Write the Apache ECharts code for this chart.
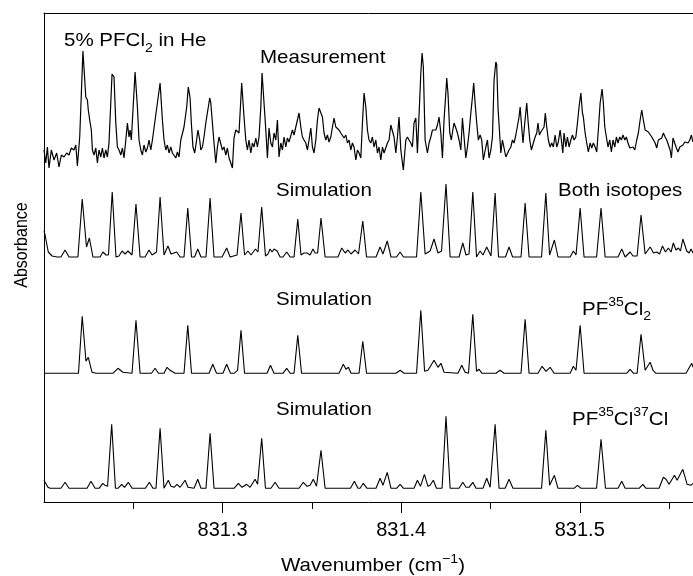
<!DOCTYPE html>
<html>
<head>
<meta charset="utf-8">
<script src="https://cdn.jsdelivr.net/npm/echarts@6/dist/echarts.min.js"></script>
<style>
html,body{margin:0;padding:0;background:#fff;}
#chart{width:693px;height:576px;}
</style>
</head>
<body>
<div id="chart"></div>
<script>
// ---- axis ticks / labels (cm^-1) ----
const wavenumberMajorTicks = [831.3, 831.4, 831.5];
const wavenumberMinorTicks = [831.25, 831.35, 831.45, 831.55];
const wavenumberMin = 831.2;
const wavenumberMax = 831.5634;

// ---- traces: [wavenumber (cm^-1), absorbance (arb. units, relative to trace baseline)] ----
const measurement = [
[831.2000,3],[831.2010,-10],[831.2019,6],[831.2028,-15],[831.2041,3],[831.2056,-7],[831.2071,0],[831.2084,-14],[831.2097,-2],[831.2112,-4],
[831.2127,0],[831.2140,-2],[831.2153,5],[831.2168,3],[831.2178,8],[831.2187,-13],[831.2200,16],[831.2218,102],[831.2234,56],[831.2243,53],
[831.2248,43],[831.2256,33],[831.2265,23],[831.2271,3],[831.2280,-2],[831.2290,5],[831.2299,-10],[831.2308,3],[831.2318,-4],[831.2327,5],
[831.2336,-5],[831.2346,3],[831.2355,-4],[831.2364,10],[831.2381,79],[831.2392,76],[831.2402,30],[831.2411,6],[831.2420,3],[831.2430,-2],
[831.2439,5],[831.2448,-5],[831.2458,13],[831.2467,30],[831.2476,16],[831.2482,23],[831.2489,13],[831.2510,81],[831.2523,46],[831.2532,13],
[831.2542,3],[831.2551,-2],[831.2560,8],[831.2570,1],[831.2579,5],[831.2588,13],[831.2598,3],[831.2607,13],[831.2616,11],[831.2650,70],
[831.2663,33],[831.2672,13],[831.2682,3],[831.2691,8],[831.2700,0],[831.2710,6],[831.2719,0],[831.2728,-2],[831.2738,-5],[831.2747,1],
[831.2756,-4],[831.2766,13],[831.2784,26],[831.2799,46],[831.2808,66],[831.2818,55],[831.2825,30],[831.2834,6],[831.2844,0],[831.2853,11],
[831.2862,23],[831.2872,13],[831.2878,3],[831.2887,6],[831.2896,16],[831.2906,30],[831.2928,55],[831.2934,50],[831.2943,30],[831.2952,10],
[831.2962,-10],[831.2971,6],[831.2980,16],[831.2990,15],[831.2999,3],[831.3008,6],[831.3018,-2],[831.3027,5],[831.3036,-5],[831.3046,-10],
[831.3055,-15],[831.3064,15],[831.3074,23],[831.3083,25],[831.3092,20],[831.3107,70],[831.3120,36],[831.3130,13],[831.3139,3],[831.3148,13],
[831.3158,0],[831.3167,10],[831.3176,6],[831.3186,15],[831.3195,6],[831.3204,16],[831.3214,46],[831.3221,80],
[831.3232,50],[831.3242,23],[831.3251,-5],[831.3260,25],[831.3270,10],[831.3279,6],[831.3288,20],[831.3298,13],[831.3307,33],[831.3316,-4],
[831.3326,10],[831.3335,3],[831.3344,16],[831.3354,6],[831.3363,15],[831.3372,11],[831.3382,13],[831.3391,23],[831.3400,18],[831.3410,26],
[831.3419,33],[831.3428,40],[831.3438,26],[831.3447,16],[831.3456,13],[831.3466,10],[831.3475,3],[831.3484,13],[831.3494,25],[831.3503,6],
[831.3512,0],[831.3522,13],[831.3531,33],[831.3540,45],[831.3550,46],[831.3559,36],[831.3568,20],[831.3578,13],[831.3587,18],[831.3596,11],
[831.3606,16],[831.3615,26],[831.3624,35],[831.3634,26],[831.3643,25],[831.3652,23],[831.3662,20],[831.3671,21],[831.3680,15],[831.3690,18],
[831.3699,10],[831.3708,13],[831.3718,3],[831.3727,10],[831.3736,6],[831.3746,-7],[831.3755,3],[831.3764,0],[831.3774,-5],[831.3783,30],
[831.3792,60],[831.3802,46],[831.3811,23],[831.3820,13],[831.3830,10],[831.3839,16],[831.3848,6],[831.3858,13],[831.3867,0],[831.3876,6],
[831.3886,-7],[831.3895,6],[831.3904,0],[831.3914,-2],[831.3923,10],[831.3932,13],[831.3942,28],[831.3951,30],[831.3960,16],[831.3970,0],
[831.3979,16],[831.3988,36],[831.3998,3],[831.4012,-17],[831.4026,13],[831.4035,16],[831.4044,13],[831.4054,10],[831.4063,6],[831.4072,30],
[831.4082,35],[831.4091,0],[831.4100,0],[831.4110,80],[831.4117,100],[831.4124,86],[831.4134,13],[831.4147,0],[831.4156,10],[831.4166,16],
[831.4175,23],[831.4184,25],[831.4194,23],[831.4203,28],[831.4212,36],[831.4222,20],[831.4231,-5],[831.4240,33],[831.4250,60],[831.4255,75],
[831.4262,60],[831.4272,20],[831.4281,13],[831.4289,23],[831.4296,30],[831.4306,25],[831.4315,20],[831.4324,13],[831.4334,3],[831.4343,35],
[831.4352,16],[831.4362,-5],[831.4371,6],[831.4380,20],[831.4390,40],[831.4399,56],[831.4406,70],[831.4414,50],[831.4423,30],[831.4432,13],
[831.4442,18],[831.4451,13],[831.4460,-7],
[831.4464,-9],[831.4474,6],[831.4483,13],[831.4492,-5],[831.4502,3],[831.4511,16],[831.4520,73],[831.4530,91],[831.4535,88],[831.4542,46],
[831.4550,23],[831.4558,0],[831.4567,13],[831.4576,15],[831.4586,-4],[831.4595,-2],[831.4604,3],[831.4614,6],[831.4623,13],[831.4632,10],
[831.4642,18],[831.4651,16],[831.4660,36],[831.4666,46],[831.4673,30],[831.4682,10],[831.4692,30],[831.4703,50],[831.4710,33],[831.4720,13],
[831.4729,3],[831.4740,10],[831.4750,16],[831.4759,20],[831.4766,30],[831.4774,18],[831.4782,21],[831.4791,23],[831.4800,26],[831.4807,40],
[831.4815,26],[831.4824,13],[831.4834,6],[831.4843,10],[831.4852,6],[831.4862,18],[831.4871,6],[831.4880,11],[831.4890,23],[831.4897,13],
[831.4905,0],[831.4912,20],[831.4922,6],[831.4931,16],[831.4940,6],[831.4950,13],[831.4959,18],[831.4968,13],[831.4978,16],[831.4987,30],
[831.4996,46],[831.5006,60],[831.5015,40],[831.5020,36],[831.5030,20],[831.5039,10],[831.5048,1],[831.5058,10],[831.5067,5],[831.5076,10],
[831.5086,6],[831.5095,1],[831.5104,23],[831.5114,50],[831.5125,64],[831.5132,50],[831.5140,26],[831.5149,16],[831.5158,6],[831.5168,13],
[831.5177,1],[831.5186,13],[831.5196,6],[831.5205,16],[831.5214,10],[831.5224,16],[831.5233,13],[831.5242,18],[831.5252,13],[831.5261,16],
[831.5270,10],[831.5280,5],[831.5289,3],[831.5298,6],[831.5308,3],[831.5319,13],[831.5328,20],[831.5338,33],[831.5347,43],[831.5356,33],
[831.5366,23],[831.5375,25],[831.5384,21],[831.5394,23],[831.5403,16],[831.5412,16],[831.5422,10],[831.5431,5],[831.5440,13],[831.5450,11],
[831.5459,15],[831.5468,20],[831.5478,16],[831.5487,13],[831.5496,11],[831.5506,3],[831.5513,-5],[831.5522,15],[831.5532,13],[831.5541,5],
[831.5550,1],[831.5560,6],[831.5569,5],[831.5578,8],[831.5588,11],[831.5597,13],[831.5606,10],[831.5616,13],[831.5625,18],[831.5633,11]
];

const simulationBoth = [
[831.2000,26],[831.2006,22],[831.2024,5],[831.2045,1],[831.2073,0],[831.2095,0],[831.2118,7],[831.2140,0],[831.2190,0],[831.2214,58],
[831.2238,10],[831.2254,19],[831.2274,0],[831.2314,0],[831.2330,5],[831.2347,2],[831.2361,2],[831.2382,65],[831.2403,0],[831.2420,1],
[831.2437,6],[831.2454,3],[831.2470,6],[831.2493,2],[831.2515,53],[831.2538,0],[831.2566,0],[831.2588,7],[831.2605,2],[831.2630,5],
[831.2650,60],[831.2672,2],[831.2694,11],[831.2711,3],[831.2722,2],[831.2743,5],[831.2762,0],[831.2784,0],[831.2805,49],[831.2826,0],
[831.2843,0],[831.2861,8],[831.2879,0],[831.2907,0],[831.2930,59],[831.2952,0],[831.2997,0],[831.3023,9],[831.3042,0],[831.3081,2],
[831.3103,44],[831.3123,2],[831.3142,6],[831.3159,2],[831.3184,8],[831.3198,5],[831.3219,50],[831.3240,1],[831.3254,3],[831.3266,8],
[831.3277,5],[831.3288,8],[831.3305,6],[831.3322,0],[831.3338,0],[831.3359,5],[831.3378,0],[831.3400,0],[831.3421,38],[831.3439,2],
[831.3456,4],[831.3473,4],[831.3490,2],[831.3506,8],[831.3518,4],[831.3532,4],[831.3551,39],[831.3574,0],[831.3646,0],[831.3667,9],
[831.3686,4],[831.3702,7],[831.3719,3],[831.3742,7],[831.3761,3],[831.3785,36],[831.3806,0],[831.3859,0],[831.3882,10],[831.3898,3],
[831.3922,16],[831.3943,0],[831.3974,0],[831.3994,5],[831.4013,0],[831.4086,0],[831.4110,65],[831.4134,3],[831.4162,6],[831.4184,18],
[831.4206,4],[831.4226,6],[831.4251,73],[831.4274,0],[831.4324,0],[831.4345,14],[831.4363,2],[831.4380,3],[831.4401,65],[831.4422,0],
[831.4442,6],[831.4458,2],[831.4479,10],[831.4503,1],[831.4526,64],[831.4545,0],[831.4584,0],[831.4604,10],[831.4624,0],[831.4671,0],
[831.4694,54],[831.4716,0],[831.4786,0],[831.4810,64],[831.4831,2],[831.4858,17],[831.4878,0],[831.4946,0],[831.4964,6],[831.4979,2],
[831.5002,49],[831.5024,0],[831.5094,0],[831.5119,49],[831.5142,0],[831.5214,0],[831.5235,8],[831.5254,0],[831.5265,1],[831.5282,5],
[831.5298,1],[831.5321,1],[831.5343,42],[831.5366,3],[831.5394,10],[831.5413,4],[831.5431,5],[831.5447,3],[831.5463,11],[831.5480,5],
[831.5496,9],[831.5511,5],[831.5524,14],[831.5539,7],[831.5552,9],[831.5564,6],[831.5577,18],[831.5599,6],[831.5612,4],[831.5623,8],
[831.5634,4]
];

const simulationPF35Cl2 = [
[831.2000,0],[831.2193,0],[831.2214,57],[831.2235,12],[831.2248,16],[831.2269,1],[831.2291,0],[831.2386,0],[831.2414,5],[831.2442,1],
[831.2493,0],[831.2515,53],[831.2538,0],[831.2602,0],[831.2622,5],[831.2641,0],[831.2672,0],[831.2689,6],[831.2706,3],[831.2717,5],
[831.2734,0],[831.2784,0],[831.2805,48],[831.2826,0],[831.2924,0],[831.2945,9],[831.2966,0],[831.3002,0],[831.3023,9],[831.3044,0],
[831.3064,0],[831.3084,3],[831.3103,43],[831.3123,0],[831.3249,0],[831.3268,8],[831.3288,0],[831.3338,0],[831.3359,5],[831.3378,0],
[831.3400,0],[831.3421,38],[831.3442,0],[831.3652,0],[831.3676,9],[831.3691,4],[831.3705,6],[831.3719,0],[831.3764,0],[831.3785,32],
[831.3806,0],[831.3971,0],[831.3994,3],[831.4016,0],[831.4086,0],[831.4110,63],[831.4131,2],[831.4150,3],[831.4184,13],[831.4206,6],
[831.4223,10],[831.4240,1],[831.4318,0],[831.4339,8],[831.4358,1],[831.4377,0],[831.4401,59],[831.4422,2],[831.4436,4],[831.4453,0],
[831.4531,0],[831.4554,3],[831.4576,0],[831.4671,0],[831.4694,54],[831.4716,0],[831.4766,0],[831.4789,7],[831.4811,2],[831.4834,6],
[831.4856,0],[831.4946,0],[831.4964,7],[831.4979,3],[831.5002,48],[831.5024,0],[831.5262,0],[831.5282,4],[831.5301,0],[831.5321,0],
[831.5343,39],[831.5366,3],[831.5377,5],[831.5394,11],[831.5410,3],[831.5427,0],[831.5595,0],[831.5627,10],[831.5634,6]
];

const simulationPF35Cl37Cl = [
[831.2000,8],[831.2022,1],[831.2034,0],[831.2095,0],[831.2118,6],[831.2140,0],[831.2241,0],[831.2263,7],[831.2286,0],[831.2308,0],
[831.2329,5],[831.2342,3],[831.2356,2],[831.2379,64],[831.2400,0],[831.2414,0],[831.2435,4],[831.2451,1],[831.2472,6],[831.2493,0],
[831.2568,0],[831.2590,6],[831.2610,0],[831.2627,0],[831.2650,60],[831.2672,0],[831.2683,2],[831.2696,8],[831.2711,2],[831.2728,1],
[831.2745,4],[831.2762,1],[831.2773,2],[831.2790,8],[831.2806,1],[831.2840,0],[831.2861,9],[831.2879,0],[831.2907,0],[831.2930,55],
[831.2952,0],[831.3064,0],[831.3088,5],[831.3109,1],[831.3135,4],[831.3154,1],[831.3182,9],[831.3196,4],[831.3219,50],[831.3240,0],
[831.3271,0],[831.3294,6],[831.3316,0],[831.3428,0],[831.3452,6],[831.3473,2],[831.3490,3],[831.3508,9],[831.3526,2],[831.3551,38],
[831.3574,0],[831.3716,0],[831.3738,7],[831.3758,0],[831.3770,0],[831.3788,5],[831.3809,0],[831.3859,0],[831.3882,10],[831.3898,3],
[831.3922,16],[831.3943,0],[831.3974,0],[831.3994,4],[831.4013,0],[831.4072,0],[831.4091,8],[831.4108,2],[831.4130,14],[831.4150,2],
[831.4162,3],[831.4180,8],[831.4198,0],[831.4229,0],[831.4251,72],[831.4274,0],[831.4324,0],[831.4345,6],[831.4363,1],[831.4380,1],
[831.4401,6],[831.4419,0],[831.4458,0],[831.4479,10],[831.4498,1],[831.4526,64],[831.4548,0],[831.4582,0],[831.4604,9],[831.4626,0],
[831.4786,0],[831.4810,58],[831.4831,3],[831.4858,13],[831.4878,0],[831.4968,0],[831.4987,3],[831.5007,0],[831.5094,0],[831.5119,49],
[831.5144,0],[831.5214,0],[831.5235,7],[831.5254,0],[831.5332,0],[831.5353,4],[831.5371,0],[831.5444,0],[831.5468,11],[831.5483,9],
[831.5500,4],[831.5530,13],[831.5545,8],[831.5577,19],[831.5601,4],[831.5623,3],[831.5634,5]
];

// vertical offsets of each trace baseline (arb. absorbance units)
const baselineMeasurement = 349;
const baselineBoth = 245;
const baselinePF35Cl2 = 128.7;
const baselinePF35Cl37Cl = 13.7;
const absorbanceMin = 0;
const absorbanceMax = 489;

const FONT = '"Liberation Sans", Arial, Helvetica, sans-serif';

function stacked(points, base) {
  return points.map(function (p) { return [p[0], base + p[1]]; });
}

function traceSeries(name, data, width) {
  return {
    name: name, type: 'line', xAxisIndex: 0, yAxisIndex: 0,
    data: data, symbol: 'none', showSymbol: false, smooth: false,
    clip: true, silent: true, animation: false,
    lineStyle: { color: '#000', width: width }
  };
}

function richStyles() {
  return {
    sub: { fontSize: 13, fontFamily: FONT, fill: '#000', lineHeight: 13, verticalAlign: 'bottom' },
    sup: { fontSize: 13, fontFamily: FONT, fill: '#000', lineHeight: 13, verticalAlign: 'top' },
    n: { fontSize: 19, fontFamily: FONT, fill: '#000', lineHeight: 27 }
  };
}

function label(text, x, y, align) {
  return {
    type: 'text', x: x, y: y, scaleX: 1.08, silent: true, z: 10,
    style: {
      text: text, fill: '#000', font: '19px ' + FONT,
      fontSize: 19, fontFamily: FONT,
      align: align || 'left', verticalAlign: 'middle',
      rich: richStyles()
    }
  };
}

var chart = echarts.init(document.getElementById('chart'), null, { renderer: 'canvas' });

chart.setOption({
  animation: false,
  backgroundColor: '#fff',
  grid: { left: 44, right: 0, top: 13, bottom: 74, containLabel: false },
  xAxis: [
    {
      type: 'value', position: 'bottom', min: wavenumberMin, max: wavenumberMax,
      axisLine: { show: true, onZero: false, lineStyle: { color: '#000', width: 1 } },
      axisTick: { show: true, inside: false, length: 11, customValues: wavenumberMajorTicks, lineStyle: { color: '#000', width: 1 } },
      axisLabel: {
        show: true, customValues: wavenumberMajorTicks, margin: 18,
        color: '#000', fontSize: 20, fontFamily: FONT,
        formatter: function (v) { return Number(v).toFixed(1); }
      },
      splitLine: { show: false }
    },
    {
      type: 'value', position: 'bottom', min: wavenumberMin, max: wavenumberMax,
      axisLine: { show: false, onZero: false },
      axisTick: { show: true, inside: false, length: 7, customValues: wavenumberMinorTicks, lineStyle: { color: '#000', width: 1 } },
      axisLabel: { show: false },
      splitLine: { show: false }
    },
    {
      type: 'value', position: 'top', min: wavenumberMin, max: wavenumberMax,
      axisLine: { show: true, onZero: false, lineStyle: { color: '#000', width: 1 } },
      axisTick: { show: false }, axisLabel: { show: false }, splitLine: { show: false }
    }
  ],
  yAxis: {
    type: 'value', min: absorbanceMin, max: absorbanceMax,
    axisLine: { show: true, onZero: false, lineStyle: { color: '#000', width: 1 } },
    axisTick: { show: false }, axisLabel: { show: false }, splitLine: { show: false }
  },
  series: [
    traceSeries('Measurement', stacked(measurement, baselineMeasurement), 1.2),
    traceSeries('Both isotopes', stacked(simulationBoth, baselineBoth), 1.1),
    traceSeries('PF35Cl2', stacked(simulationPF35Cl2, baselinePF35Cl2), 1.1),
    traceSeries('PF35Cl37Cl', stacked(simulationPF35Cl37Cl, baselinePF35Cl37Cl), 1.1)
  ],
  graphic: [
    label('{n|5% PFCl}{sub|2}{n| in He}', 64, 41),
    label('{n|Measurement}', 260, 58),
    label('{n|Simulation}', 276, 191),
    label('{n|Both isotopes}', 558, 191),
    label('{n|Simulation}', 276, 300),
    label('{n|PF}{sup|35}{n|Cl}{sub|2}', 582, 309.5),
    label('{n|Simulation}', 276, 410),
    label('{n|PF}{sup|35}{n|Cl}{sup|37}{n|Cl}', 572, 419.5),
    label('{n|Wavenumber (cm}{sup|\u22121}{n|)}', 373, 566, 'center'),
    {
      type: 'text', x: 22, y: 245, rotation: Math.PI / 2, scaleY: 1.2, silent: true,
      style: { text: 'Absorbance', fill: '#000', font: '16px ' + FONT, fontSize: 16, fontFamily: FONT, align: 'center', verticalAlign: 'middle' }
    }
  ]
});
</script>
</body>
</html>
